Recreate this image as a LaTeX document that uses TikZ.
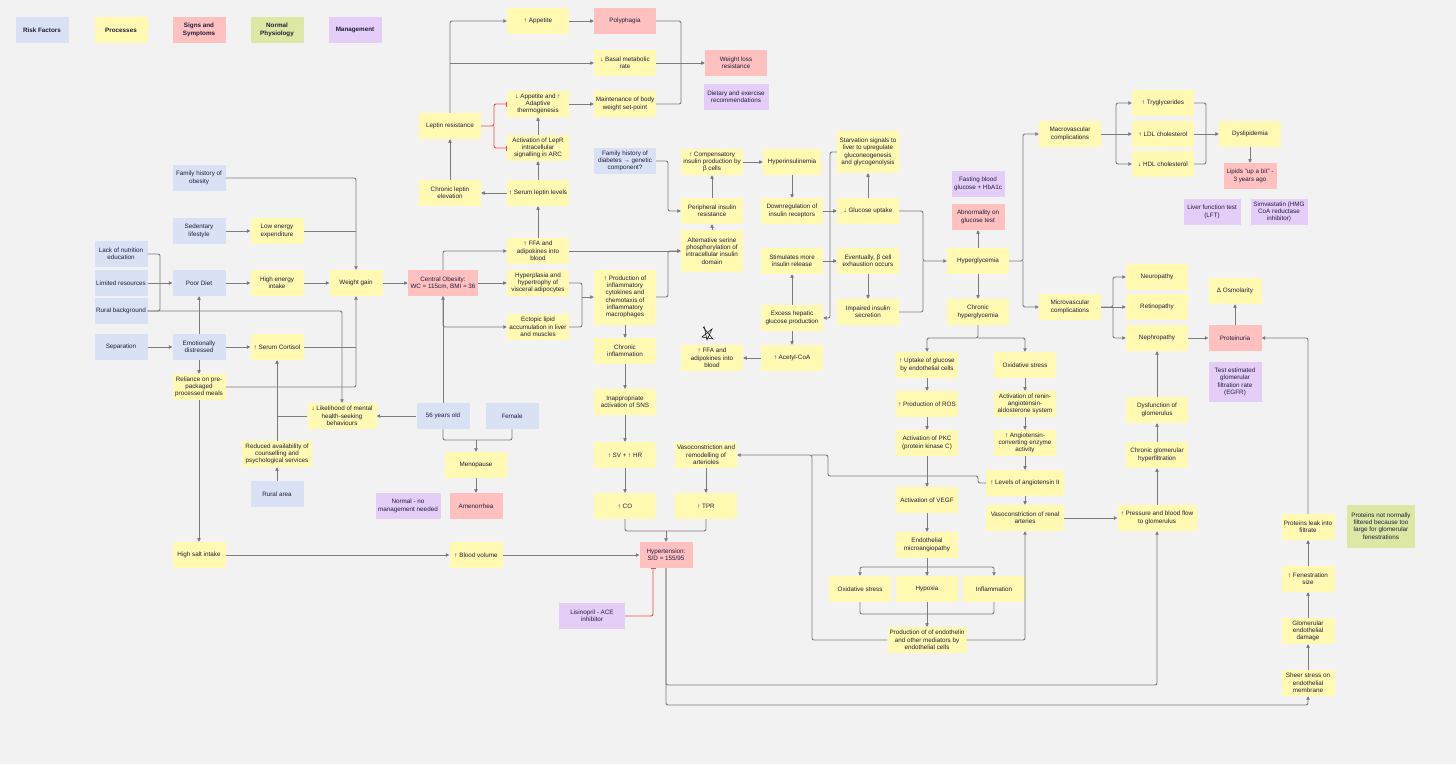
\documentclass[tikz,border=0pt]{standalone}
\usepackage{fontspec}
\setmainfont{Liberation Sans}
\usetikzlibrary{calc,positioning,shapes,arrows.meta}

\definecolor{bgcol}{HTML}{F2F2F2}
\definecolor{riskcol}{HTML}{D9E1F4}
\definecolor{proccol}{HTML}{FFF9B1}
\definecolor{signcol}{HTML}{FFC0C0}
\definecolor{normcol}{HTML}{DCE8A4}
\definecolor{mgmtcol}{HTML}{E4CDF7}
\definecolor{linecol}{HTML}{7C7C7C}
\definecolor{inhibcol}{HTML}{F04848}
\definecolor{txtcol}{HTML}{1E1E3C}

\tikzset{
  box/.style={shape=rectangle,inner sep=1pt,minimum width=53,minimum height=26,
    align=center,text=txtcol,font=\fontsize{6.3}{7.3}\selectfont},
  risk/.style={box,fill=riskcol},
  proc/.style={box,fill=proccol},
  sign/.style={box,fill=signcol},
  norm/.style={box,fill=normcol},
  mgmt/.style={box,fill=mgmtcol},
  legend/.style={font=\fontsize{6.3}{7.3}\selectfont\bfseries},
  line/.style={draw=linecol,line width=0.9pt,rounded corners=2pt},
  conn/.style={line,-{Triangle[length=3.5pt,width=3.5pt]}},
  inhib/.style={draw=inhibcol,line width=0.9pt,rounded corners=2pt,-{Bar[width=5pt]}}
}

\begin{document}
\begin{tikzpicture}[x=1pt,y=-1pt]
\useasboundingbox (0,0) rectangle (1456,764);
\fill[bgcol] (0,0) rectangle (1456,764);

% legend
\node[risk,legend](lgrisk) at (42,30) {Risk Factors};
\node[proc,legend](lgproc) at (121,30) {Processes};
\node[sign,legend](lgsign) at (199,30) {Signs and\\Symptoms};
\node[norm,legend](lgnorm) at (277,30) {Normal\\Physiology};
\node[mgmt,legend](lgmgmt) at (355,30) {Management};

% risk factors and lifestyle
\node[risk](famob) at (199,178) {Family history of\\obesity};
\node[risk](sedent) at (199,231) {Sedentary\\lifestyle};
\node[proc](lowen) at (277,231) {Low energy\\expenditure};
\node[risk](nutred) at (121,254) {Lack of nutrition\\education};
\node[risk](limres) at (121,283) {Limited resources};
\node[risk](ruralbg) at (121,311) {Rural background};
\node[risk](poordiet) at (199,283) {Poor Diet};
\node[proc](highen) at (277,283) {High energy\\intake};
\node[proc](wgain) at (356,283) {Weight gain};
\node[risk](separ) at (121,347) {Separation};
\node[risk](emot) at (199,347) {Emotionally\\distressed};
\node[proc](cortisol) at (277,347) {↑ Serum Cortisol};
\node[proc](reliance) at (199,387) {Reliance on pre-\\packaged\\processed meals};
\node[proc](mental) at (342,416) [minimum width=69] {↓ Likelihood of mental\\health-seeking\\behaviours};
\node[proc](counsel) at (277,454) [minimum width=70] {Reduced availability of\\counselling and\\psychological services};
\node[risk](ruralar) at (277,494) {Rural area};
\node[proc](salt) at (199,555) {High salt intake};

% obesity
\node[sign](obesity) at (443,283) [minimum width=70] {Central Obesity:\\WC = 115cm, BMI = 36};
\node[proc](ffa) at (538,251) [minimum width=62] {↑ FFA and\\adipokines into\\blood};
\node[proc](hyperpl) at (538,283) [minimum width=62] {Hyperplasia and\\hypertrophy of\\visceral adipocytes};
\node[proc](ectopic) at (538,327) [minimum width=62] {Ectopic lipid\\accumulation in liver\\and muscles};
\node[risk](age) at (443,416) {56 years old};
\node[risk](female) at (512,416) {Female};
\node[proc](menop) at (476,465) [minimum width=62] {Menopause};
\node[sign](amenor) at (476,506) {Amenorrhea};
\node[mgmt](nomgmt) at (408,506) [minimum width=65] {Normal - no\\management needed};

% leptin
\node[proc](appup) at (538,21) [minimum width=62] {↑ Appetite};
\node[sign](polyph) at (625,21) [minimum width=62] {Polyphagia};
\node[proc](bmr) at (625,63) [minimum width=62] {↓ Basal metabolic\\rate};
\node[sign](wlres) at (736,63) [minimum width=62] {Weight loss\\resistance};
\node[mgmt](dietrec) at (736,97) [minimum width=65] {Dietary and exercise\\recommendations};
\node[proc](appdown) at (538,104) [minimum width=62] {↓ Appetite and ↑\\Adaptive\\thermogenesis};
\node[proc](setpt) at (625,104) [minimum width=62] {Maintenance of body\\weight set-point};
\node[proc](leptres) at (450,126) [minimum width=62] {Leptin resistance};
\node[proc](lepr) at (538,148) [minimum width=62] {Activation of LepR\\intracellular\\signalling in ARC};
\node[proc](chrlep) at (450,193) [minimum width=62] {Chronic leptin\\elevation};
\node[proc](serlep) at (538,193) [minimum width=62] {↑ Serum leptin levels};

% insulin and glucose
\node[risk](famdiab) at (625,161) [minimum width=62] {Family history of\\diabetes → genetic\\component?};
\node[proc](compins) at (712,162) [minimum width=62] {↑ Compensatory\\insulin production by\\β cells};
\node[proc](perires) at (712,211) [minimum width=62] {Peripheral insulin\\resistance};
\node[proc](serine) at (712,251) [minimum width=62,minimum height=42] {Alternative serine\\phosphorylation of\\intracellular insulin\\domain};
\node[proc](hyperins) at (792,162) [minimum width=58] {Hyperinsulinemia};
\node[proc](downreg) at (792,211) [minimum width=62] {Downregulation of\\insulin receptors};
\node[proc](starv) at (868,152) [minimum width=62,minimum height=42] {Starvation signals to\\liver to upregulate\\gluconeogenesis\\and glycogenolysis};
\node[proc](gluup) at (868,211) [minimum width=62] {↓ Glucose uptake};
\node[mgmt](fbg) at (978,184) {Fasting blood\\glucose + HbA1c};
\node[sign](abnorm) at (978,217) {Abnormality on\\glucose test};
\node[proc](hypergl) at (978,261) [minimum width=62] {Hyperglycemia};
\node[proc](stimins) at (792,261) [minimum width=62] {Stimulates more\\insulin release};
\node[proc](exhaust) at (868,261) [minimum width=62] {Eventually, β cell\\exhaustion occurs};
\node[proc](impair) at (868,312) [minimum width=62] {Impaired insulin\\secretion};
\node[proc](hepgl) at (792,318) [minimum width=62] {Excess hepatic\\glucose production};
\node[proc](acetyl) at (792,358) [minimum width=62] {↑ Acetyl-CoA};
\node[proc](ffatwo) at (712,358) [minimum width=62] {↑ FFA and\\adipokines into\\blood};
\node[proc](chrhyp) at (978,312) [minimum width=62] {Chronic\\hyperglycemia};

% lipids
\node[proc](macro) at (1070,134) [minimum width=62] {Macrovascular\\complications};
\node[proc](trig) at (1163,103) [minimum width=62] {↑ Tryglycerides};
\node[proc](ldl) at (1163,134) [minimum width=62] {↑ LDL cholesterol};
\node[proc](hdl) at (1163,164) [minimum width=62] {↓ HDL cholesterol};
\node[proc](dyslip) at (1250,134) [minimum width=62] {Dyslipidemia};
\node[sign](lipids) at (1250,176) {Lipids "up a bit" -\\3 years ago};
\node[mgmt](lft) at (1212,212) [minimum width=57] {Liver function test\\(LFT)};
\node[mgmt](simva) at (1279,212) [minimum width=57] {Simvastatin (HMG\\CoA reductase\\inhibitor)};

% microvascular
\node[proc](micro) at (1070,307) [minimum width=62] {Microvascular\\complications};
\node[proc](neuro) at (1157,277) [minimum width=62] {Neuropathy};
\node[proc](retino) at (1157,307) [minimum width=62] {Retinopathy};
\node[proc](nephro) at (1157,338) [minimum width=62] {Nephropathy};
\node[proc](osmol) at (1235,291) {Δ Osmolarity};
\node[sign](protur) at (1235,338) {Proteinuria};
\node[mgmt](egfr) at (1235,382) [minimum height=40] {Test estimated\\glomerular\\filtration rate\\(EGFR)};
\node[proc](dysglom) at (1157,410) [minimum width=62] {Dysfunction of\\glomerulus};
\node[proc](hyperfil) at (1157,455) [minimum width=62] {Chronic glomerular\\hyperfiltration};
\node[proc](pressure) at (1157,518) [minimum width=79] {↑ Pressure and blood flow\\to glomerulus};
\node[proc](leak) at (1308,527) {Proteins leak into\\filtrate};
\node[norm](notfilt) at (1381,526) [minimum width=68,minimum height=43] {Proteins not normally\\filtered because too\\large for glomerular\\fenestrations};
\node[proc](fenes) at (1308,579) {↑ Fenestration\\size};
\node[proc](glomdam) at (1308,631) {Glomerular\\endothelial\\damage};
\node[proc](sheer) at (1308,683) {Sheer stress on\\endothelial\\membrane};

% endothelium
\node[proc](uptake) at (927,365) [minimum width=62] {↑ Uptake of glucose\\by endothelial cells};
\node[proc](oxstr) at (1025,365) [minimum width=62] {Oxidative stress};
\node[proc](ros) at (927,404) [minimum width=62] {↑ Production of ROS};
\node[proc](raas) at (1025,404) [minimum width=62] {Activation of renin-\\angiotensin-\\aldosterone system};
\node[proc](pkc) at (927,443) [minimum width=62] {Activation of PKC\\(protein kinase C)};
\node[proc](ace) at (1025,443) [minimum width=62] {↑ Angiotensin-\\converting enzyme\\activity};
\node[proc](angio) at (1025,483) [minimum width=78] {↑ Levels of angiotensin II};
\node[proc](vegf) at (927,500) [minimum width=62] {Activation of VEGF};
\node[proc](renal) at (1025,518) [minimum width=78] {Vasoconstriction of renal\\arteries};
\node[proc](microang) at (927,545) [minimum width=62] {Endothelial\\microangiopathy};
\node[proc](oxstrtwo) at (860,589) [minimum width=62] {Oxidative stress};
\node[proc](hypoxia) at (927,589) [minimum width=62] {Hypoxia};
\node[proc](inflam) at (994,589) [minimum width=62] {Inflammation};
\node[proc](endoth) at (927,640) [minimum width=79] {Production of of endothelin\\and other mediators by\\endothelial cells};

% inflammation and blood pressure
\node[proc](cytok) at (625,297) [minimum width=62,minimum height=55] {↑ Production of\\inflammatory\\cytokines and\\chemotaxis of\\inflammatory\\macrophages};
\node[proc](chrinf) at (625,351) [minimum width=62] {Chronic\\inflammation};
\node[proc](sns) at (625,402) [minimum width=62] {Inappropriate\\activation of SNS};
\node[proc](svhr) at (625,455) [minimum width=62] {↑ SV + ↑ HR};
\node[proc](vasoart) at (706,455) [minimum width=62] {Vasoconstriction and\\remodelling of\\arterioles};
\node[proc](co) at (625,506) [minimum width=62] {↑ CO};
\node[proc](tpr) at (706,506) [minimum width=62] {↑ TPR};
\node[sign](htn) at (666,555) {Hypertension:\\S/D = 155/95};
\node[proc](bldvol) at (476,555) {↑ Blood volume};
\node[mgmt](lisin) at (592,616) [minimum width=66] {Lisinopril - ACE\\inhibitor};

% junctions
\coordinate (dietbus) at (160,283);
\coordinate (menobus) at (476,440);
\coordinate (leptfork) at (494,126);
\coordinate (wlbus) at (681,63);
\coordinate (irbus) at (668,211);
\coordinate (cytbus) at (582,297);
\coordinate (hepbus) at (830,318);
\coordinate (glbus) at (923,261);
\coordinate (compbus) at (1023,261);
\coordinate (lipbus) at (1116,134);
\coordinate (dysbus) at (1206,134);
\coordinate (micbus) at (1113,307);
\coordinate (chrbus) at (978,338);
\coordinate (angbus) at (927,567);
\coordinate (endbus) at (927,614);
\coordinate (vasobus) at (812,455);
\coordinate (angjog) at (978,476);
\coordinate (angturn) at (828,476);
\coordinate (htnbus) at (666,531);
\coordinate (presbus) at (1157,685);
\coordinate (sheerbus) at (1308,705);

% straight links
\path[conn]
(sedent) edge (lowen)
(limres) edge (poordiet)
(poordiet) edge (highen)
(highen) edge (wgain)
(separ) edge (emot)
(emot) edge (cortisol)
(emot) edge (poordiet)
(emot) edge (reliance)
(reliance) edge (salt)
(ruralar) edge (counsel)
(counsel) edge (cortisol)
(age) edge (mental)
(age) edge (obesity)
(wgain) edge (obesity)
(obesity) edge (hyperpl)
(menop) edge (amenor)
(salt) edge (bldvol)
(bldvol) edge (htn)
(ffa) edge (serlep)
(ffa) edge (serine)
(serlep) edge (chrlep)
(serlep) edge (lepr)
(lepr) edge (appdown)
(chrlep) edge (leptres)
(appup) edge (polyph)
(appdown) edge (setpt)
(bmr) edge (wlres)
(serine) edge (perires)
(perires) edge (compins)
(compins) edge (hyperins)
(hyperins) edge (downreg)
(downreg) edge (gluup)
(gluup) edge (starv)
(stimins) edge (exhaust)
(exhaust) edge (impair)
(hepgl) edge (stimins)
(hepgl) edge (acetyl)
(acetyl) edge (ffatwo)
(hypergl) edge (chrhyp)
(hypergl) edge (abnorm)
(macro) edge (ldl)
(ldl) edge (dyslip)
(dyslip) edge (lipids)
(micro) edge (retino)
(nephro) edge (protur)
(protur) edge (osmol)
(uptake) edge (ros)
(ros) edge (pkc)
(pkc) edge (vegf)
(vegf) edge (microang)
(microang) edge (hypoxia)
(hypoxia) edge (endoth)
(oxstr) edge (raas)
(raas) edge (ace)
(ace) edge (angio)
(angio) edge (renal)
(renal) edge (pressure)
(pressure) edge (hyperfil)
(hyperfil) edge (dysglom)
(dysglom) edge (nephro)
(sheer) edge (glomdam)
(glomdam) edge (fenes)
(fenes) edge (leak)
(cytok) edge (chrinf)
(chrinf) edge (sns)
(sns) edge (svhr)
(svhr) edge (co)
(vasoart) edge (tpr);

% routed links
\draw[conn] (famob.east) -| (wgain.north);
\draw[line] (lowen.east) -- (lowen.east -| wgain.north);
\draw[line] (nutred.east) -| (dietbus) |- (ruralbg.east);
\draw[conn] (ruralbg.east) -| (mental.north);
\draw[conn] (reliance.east) -| (wgain.south);
\draw[line] (cortisol.east) -- (cortisol.east -| wgain.south);
\draw[line] (mental.west) -- (mental.west -| counsel.north);
\draw[conn] (obesity.south) |- (ectopic.west);
\draw[conn] (obesity.north) |- (ffa.west);
\draw[line] (age.south) |- (menobus) -| (female.south);
\draw[conn] (menobus) -- (menop.north);
\draw[conn] (leptres.north) |- (appup.west);
\draw[conn] (leptres.north |- bmr.west) -- (bmr.west);
\draw[inhib] (leptres.east) -- (leptfork) |- (appdown.west);
\draw[inhib] (leptfork) |- (lepr.west);
\draw[line] (polyph.east) -| (wlbus) |- (setpt.east);
\draw[conn] (famdiab.east) -| (irbus) -- (perires.west);
\draw[conn] (cytok.east) -| (serine.west -| irbus) -- (serine.west);
\draw[line] (hyperpl.east) -| (cytbus);
\draw[line] (ectopic.east) -| (cytbus);
\draw[conn] (cytbus) -- (cytok.west);
\draw[conn] (starv.west) -| (hepbus) -- (hepgl.east);
\draw[conn] (gluup.east) -| (glbus) -- (hypergl.west);
\draw[line] (impair.east) -| (glbus);
\draw[conn] (hypergl.east) -- (compbus) |- (macro.west);
\draw[conn] (compbus) |- (micro.west);
\draw[conn] (lipbus) |- (trig.west);
\draw[conn] (lipbus) |- (hdl.west);
\draw[line] (trig.east) -| (dysbus) |- (hdl.east);
\draw[conn] (micro.east) -- (micbus) |- (neuro.west);
\draw[conn] (micbus) |- (nephro.west);
\draw[conn] (chrhyp.south) -- (chrbus) -| (uptake.north);
\draw[conn] (chrbus) -| (oxstr.north);
\draw[conn] (angbus) -| (oxstrtwo.north);
\draw[conn] (angbus) -| (inflam.north);
\draw[line] (oxstrtwo.south) |- (endbus) -| (inflam.south);
\draw[conn] (endoth.west) -| (vasobus) -- (vasoart.east);
\draw[conn] (endoth.east) -| (renal.south);
\draw[line] (angio.west) -| (angjog) -- (angturn) |- (vasobus);
\draw[line] (co.south) |- (htnbus) -| (tpr.south);
\draw[conn] (htnbus) -- (htn.north);
\draw[inhib] (lisin.east) -| ([xshift=-13pt]htn.south);
\draw[conn] (htn.south) |- (presbus) -- (pressure.south);
\draw[conn] (htn.south) |- (sheerbus) -- (sheer.south);
\draw[conn] (leak.north) |- (protur.east);

% doodle
\draw[line width=0.5pt] (703,327) -- (713,339) -- (702,337) -- (712,329) -- (707,340) -- (704,326);
\end{tikzpicture}
\end{document}
